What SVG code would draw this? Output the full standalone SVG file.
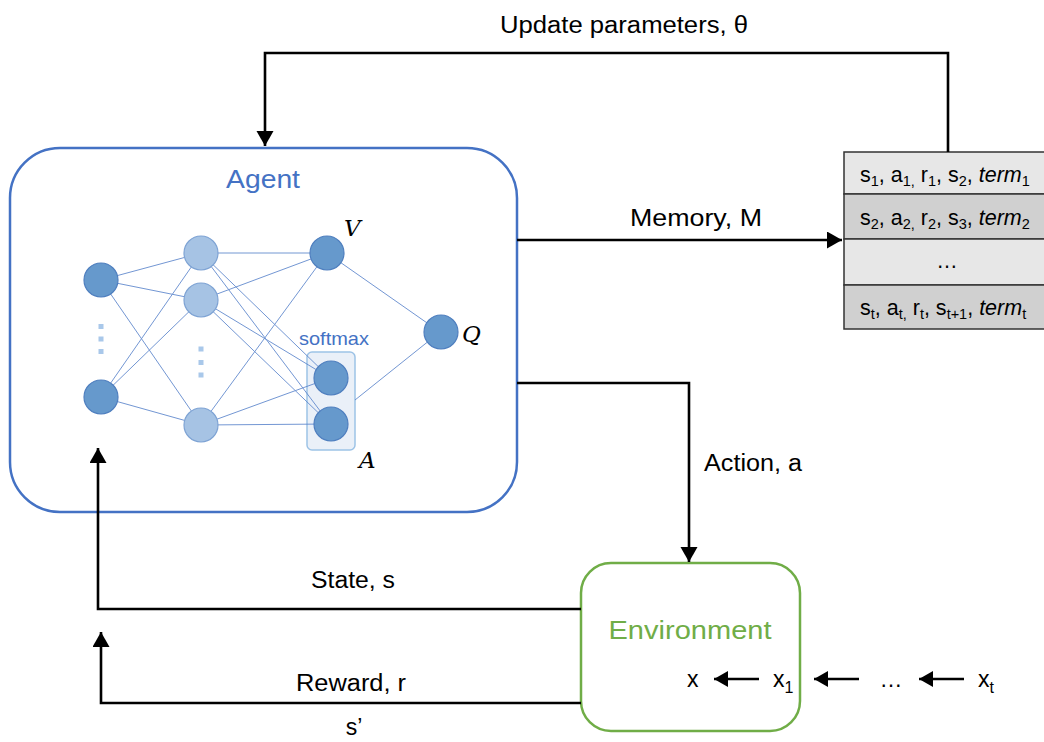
<svg xmlns="http://www.w3.org/2000/svg" width="1044" height="742" viewBox="0 0 1044 742">
<defs>
<style>
.lbl{font-family:"Liberation Sans",Arial,sans-serif;font-size:23px;fill:#000}
.conn{fill:none;stroke:#000;stroke-width:2.6}
.edge{stroke:#5B85CC;stroke-width:1;opacity:0.85}
.dark{fill:#6699CC;stroke:#4F7FBF;stroke-width:1.2}
.light{fill:#A6C3E4;stroke:#7EA3D4;stroke-width:1.2}
.dot{fill:#A9C8EA}
.math{font-family:"DejaVu Serif","Liberation Serif",serif;font-style:italic;font-size:23px;fill:#000}
.row{font-family:"Liberation Sans",Arial,sans-serif;font-size:21.5px;fill:#000}
.sub{font-size:14.5px}
</style>
<marker id="ah" markerUnits="userSpaceOnUse" markerWidth="16" markerHeight="18" refX="15" refY="8.5" orient="auto">
<path d="M0,0 L15,8.5 L0,17 z" fill="#000"/>
</marker>
<marker id="ahs" markerUnits="userSpaceOnUse" markerWidth="16" markerHeight="18" refX="14" refY="8" orient="auto">
<path d="M0,0 L14,8 L0,16 z" fill="#000"/>
</marker>
</defs>
<rect width="1044" height="742" fill="#fff"/>

<g id="agent">
<rect x="10" y="148" width="507" height="364" rx="50" ry="50" fill="#fff" stroke="#4472C4" stroke-width="2.5"/>
<text x="263" y="188" text-anchor="middle" font-family="Liberation Sans,Arial,sans-serif" font-size="25" fill="#4472C4" textLength="74" lengthAdjust="spacingAndGlyphs">Agent</text>
<g id="network">
<rect x="307" y="352" width="48" height="98" rx="5" fill="#EAF0F8" stroke="#9DC3E6" stroke-width="1.5"/>
<text x="334" y="345" text-anchor="middle" font-family="Liberation Sans,Arial,sans-serif" font-size="19" fill="#4472C4" textLength="70" lengthAdjust="spacingAndGlyphs">softmax</text>
<g class="edge">
<line x1="101" y1="280" x2="201" y2="253"/>
<line x1="101" y1="280" x2="201" y2="300"/>
<line x1="101" y1="280" x2="201" y2="425"/>
<line x1="101" y1="397" x2="201" y2="253"/>
<line x1="101" y1="397" x2="201" y2="300"/>
<line x1="101" y1="397" x2="201" y2="425"/>
<line x1="201" y1="253" x2="327" y2="253"/>
<line x1="201" y1="253" x2="330" y2="378"/>
<line x1="201" y1="253" x2="330" y2="424"/>
<line x1="201" y1="300" x2="327" y2="253"/>
<line x1="201" y1="300" x2="330" y2="378"/>
<line x1="201" y1="300" x2="330" y2="424"/>
<line x1="201" y1="425" x2="327" y2="253"/>
<line x1="201" y1="425" x2="330" y2="378"/>
<line x1="201" y1="425" x2="330" y2="424"/>
<line x1="327" y1="253" x2="440" y2="332"/>
<line x1="355" y1="400" x2="440" y2="332"/>
</g>
<circle class="dark" cx="101" cy="280" r="17"/>
<circle class="dark" cx="101" cy="397" r="17"/>
<rect class="dot" x="98.5" y="324" width="5" height="5"/>
<rect class="dot" x="98.5" y="336.5" width="5" height="5"/>
<rect class="dot" x="98.5" y="349" width="5" height="5"/>
<circle class="light" cx="201" cy="253" r="17"/>
<circle class="light" cx="201" cy="300" r="17"/>
<circle class="light" cx="201" cy="425" r="17"/>
<rect class="dot" x="198.5" y="346.5" width="5" height="5"/>
<rect class="dot" x="198.5" y="360" width="5" height="5"/>
<rect class="dot" x="198.5" y="372.5" width="5" height="5"/>
<circle class="dark" cx="327" cy="253" r="17"/>
<circle class="dark" cx="331" cy="378" r="17"/>
<circle class="dark" cx="331" cy="424" r="17"/>
<circle class="dark" cx="441" cy="332" r="17"/>
<text class="math" x="344" y="236">V</text>
<text class="math" x="462" y="342">Q</text>
<text class="math" x="359" y="468">A</text>
</g>
</g>

<g id="memory">
<rect x="844" y="152" width="202" height="42" fill="#E7E7E7" stroke="#333" stroke-width="1.5"/>
<rect x="844" y="194" width="202" height="45" fill="#D0D0D0" stroke="#333" stroke-width="1.5"/>
<rect x="844" y="239" width="202" height="46" fill="#E7E7E7" stroke="#333" stroke-width="1.5"/>
<rect x="844" y="285" width="202" height="44" fill="#D0D0D0" stroke="#333" stroke-width="1.5"/>
<text class="row" x="860" y="182">s<tspan class="sub" dy="4">1</tspan><tspan dy="-4">, a</tspan><tspan class="sub" dy="4">1,</tspan><tspan dy="-4"> r</tspan><tspan class="sub" dy="4">1</tspan><tspan dy="-4">, s</tspan><tspan class="sub" dy="4">2</tspan><tspan dy="-4">, </tspan><tspan font-style="italic">term</tspan><tspan class="sub" dy="4">1</tspan></text>
<text class="row" x="860" y="225">s<tspan class="sub" dy="4">2</tspan><tspan dy="-4">, a</tspan><tspan class="sub" dy="4">2,</tspan><tspan dy="-4"> r</tspan><tspan class="sub" dy="4">2</tspan><tspan dy="-4">, s</tspan><tspan class="sub" dy="4">3</tspan><tspan dy="-4">, </tspan><tspan font-style="italic">term</tspan><tspan class="sub" dy="4">2</tspan></text>
<text class="row" x="947" y="268" text-anchor="middle">…</text>
<text class="row" x="860" y="315">s<tspan class="sub" dy="4">t</tspan><tspan dy="-4">, a</tspan><tspan class="sub" dy="4">t,</tspan><tspan dy="-4"> r</tspan><tspan class="sub" dy="4">t</tspan><tspan dy="-4">, s</tspan><tspan class="sub" dy="4">t+1</tspan><tspan dy="-4">, </tspan><tspan font-style="italic">term</tspan><tspan class="sub" dy="4">t</tspan></text>
</g>

<g id="environment">
<rect x="581" y="563" width="219" height="168" rx="30" ry="30" fill="#fff" stroke="#70AD47" stroke-width="2.5"/>
<text x="690" y="639" text-anchor="middle" font-family="Liberation Sans,Arial,sans-serif" font-size="26" fill="#70AD47" textLength="163" lengthAdjust="spacingAndGlyphs">Environment</text>
</g>

<g id="sequence">
<text class="lbl" x="687" y="687">x</text>
<text class="lbl" x="773" y="687">x<tspan font-size="16" dy="6">1</tspan></text>
<text class="lbl" x="891" y="687" text-anchor="middle">…</text>
<text class="lbl" x="978" y="687">x<tspan font-size="16" dy="6">t</tspan></text>
<path class="conn" d="M759,679 H714" marker-end="url(#ahs)"/>
<path class="conn" d="M859,679 H814" marker-end="url(#ahs)"/>
<path class="conn" d="M964,679 H919" marker-end="url(#ahs)"/>
</g>

<g id="connectors">
<path class="conn" d="M948,152 V53 H265 V146" marker-end="url(#ah)"/>
<path class="conn" d="M517,240 H842" marker-end="url(#ah)"/>
<path class="conn" d="M517,383 H689 V562" marker-end="url(#ah)"/>
<path class="conn" d="M581,609 H98 V448" marker-end="url(#ah)"/>
<path class="conn" d="M581,703 H101 V632" marker-end="url(#ah)"/>
<text class="lbl" x="624" y="33" text-anchor="middle" textLength="248" lengthAdjust="spacingAndGlyphs">Update parameters, θ</text>
<text class="lbl" x="696" y="226" text-anchor="middle" textLength="132" lengthAdjust="spacingAndGlyphs">Memory, M</text>
<text class="lbl" x="704" y="471" textLength="98" lengthAdjust="spacingAndGlyphs">Action, a</text>
<text class="lbl" x="353" y="588" text-anchor="middle" textLength="84" lengthAdjust="spacingAndGlyphs">State, s</text>
<text class="lbl" x="351" y="691" text-anchor="middle" textLength="110" lengthAdjust="spacingAndGlyphs">Reward, r</text>
<text class="lbl" x="354" y="735" text-anchor="middle">s’</text>
</g>
</svg>
